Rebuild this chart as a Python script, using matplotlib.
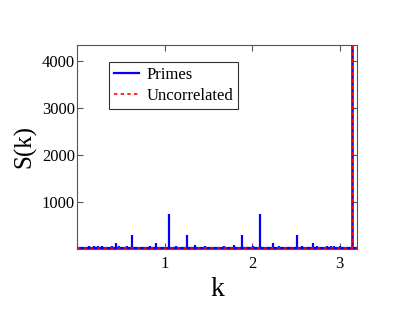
import matplotlib
matplotlib.use('Agg')
import matplotlib.pyplot as plt

# Peak positions (k) and heights S(k)
peak_k = [0.138, 0.20, 0.237, 0.283, 0.40, 0.449, 0.475, 0.57, 0.628, 0.83,
          0.898, 1.047, 1.13, 1.257, 1.346, 1.46, 1.68, 1.795, 1.885, 2.01,
          2.094, 2.244, 2.31, 2.513, 2.57, 2.693, 2.74, 2.86, 2.905, 2.94, 3.0]
peak_s = [60, 70, 65, 65, 70, 130, 70, 65, 300, 70,
          130, 750, 70, 290, 90, 65, 65, 90, 290, 70,
          750, 130, 70, 300, 65, 135, 70, 65, 70, 70, 60]
baseline = 20
k_pi = 3.1416
s_pi = 5000

k_min, k_max = 0.0, 3.2

plt.rcParams['font.family'] = ['Liberation Serif', 'DejaVu Serif']

fig = plt.figure(figsize=(4.15, 3.12), dpi=100)
ax = fig.add_axes([0.1855, 0.202, 0.675, 0.654])

# Primes: baseline plus spikes
ax.plot([k_min, k_max], [baseline, baseline], color='blue', lw=1.6, label='Primes')
ax.vlines(peak_k, baseline, peak_s, color='blue', lw=1.6)
ax.vlines([k_pi], baseline, s_pi, color='blue', lw=1.8)

# Uncorrelated: flat with delta at pi
ax.plot([k_min, k_pi, k_pi, k_pi, k_max], [baseline, baseline, s_pi, baseline, baseline],
        color='red', ls=(0, (2, 2)), lw=1.2, label='Uncorrelated')

ax.set_xlim(k_min, k_max)
ax.set_ylim(0, 4340)
ax.set_xticks([1, 2, 3])
ax.set_yticks([1000, 2000, 3000, 4000])
ax.tick_params(direction='in', top=True, right=True, labelsize=12, length=4,
               color='#555555', width=0.8)
ax.tick_params(axis='x', pad=5)
ax.tick_params(axis='y', pad=1.5)
for sp in ax.spines.values():
    sp.set_color('#555555')
    sp.set_linewidth(0.8)

ax.set_xlabel('k', fontsize=20, labelpad=4)
ax.set_ylabel('S(k)', fontsize=18, labelpad=4)

leg = ax.legend(loc='upper left', bbox_to_anchor=(0.114, 0.917), borderaxespad=0,
                fontsize=12, fancybox=False, framealpha=1, edgecolor='#333333',
                handlelength=1.5, handletextpad=0.45, borderpad=0.3, labelspacing=0.3)
leg.get_frame().set_linewidth(0.8)

fig.savefig('out.png', dpi=100)
